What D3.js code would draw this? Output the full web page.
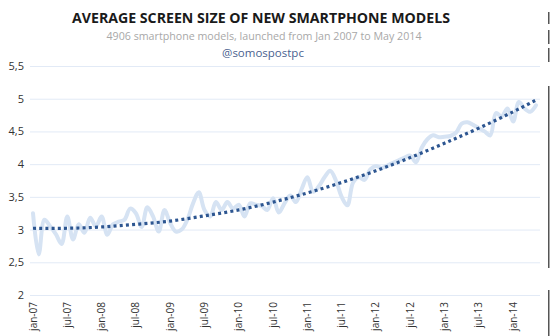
<!DOCTYPE html>
<html>
<head>
<meta charset="utf-8">
<script src="https://cdnjs.cloudflare.com/ajax/libs/d3/7.8.5/d3.min.js"></script>
<style>
  body { margin: 0; background: #fff; }
  svg { display: block; font-family: "Open Sans", "Noto Sans", sans-serif; }
</style>
</head>
<body>
<svg id="chart" width="550" height="336"></svg>
<script type="text/javascript">

// monthly average screen size, jan-07 .. may-14
var months = d3.range(89);
var avgSize = [
  3.25, 2.62, 3.15, 3.05, 2.93, 2.78, 3.20, 2.85, 3.08, 2.95, 3.18, 3.05,
  3.20, 2.92, 3.08, 3.12, 3.15, 3.32, 3.25, 3.04, 3.34, 3.20, 2.97, 3.30,
  3.10, 2.97, 3.00, 3.15, 3.40, 3.57, 3.30, 3.20, 3.42, 3.30, 3.42, 3.32,
  3.38, 3.20, 3.40, 3.38, 3.36, 3.30, 3.48, 3.26, 3.40, 3.52, 3.42, 3.62,
  3.80, 3.58, 3.66, 3.80, 3.90, 3.75, 3.50, 3.37, 3.72, 3.80, 3.76, 3.92,
  3.97, 3.94, 3.98, 4.02, 4.06, 4.10, 4.13, 4.03, 4.25, 4.38, 4.44, 4.41,
  4.42, 4.43, 4.48, 4.62, 4.64, 4.60, 4.55, 4.50, 4.44, 4.78, 4.73, 4.85,
  4.65, 4.95, 4.85, 4.80, 4.90
];

// trend line, read at each half year
var trendMonths = [0, 6, 12, 18, 24, 30, 36, 42, 48, 54, 60, 66, 72, 78, 84, 88];
var trendSize = [3.02, 3.02, 3.04, 3.08, 3.13, 3.21, 3.30, 3.42, 3.56, 3.72, 3.90, 4.10, 4.32, 4.55, 4.80, 4.98];

var tickLabels = ["jan-07", "jul-07", "jan-08", "jul-08", "jan-09", "jul-09", "jan-10", "jul-10",
                  "jan-11", "jul-11", "jan-12", "jul-12", "jan-13", "jul-13", "jan-14"];
var yTicks = [2, 2.5, 3, 3.5, 4, 4.5, 5, 5.5];

var svg = d3.select("#chart");

var x = d3.scaleLinear().domain([0, 88]).range([33, 536]);
var y = d3.scaleLinear().domain([2, 5.5]).range([295, 66]);

// titles
svg.append("text")
    .attr("x", 261).attr("y", 23)
    .attr("text-anchor", "middle")
    .attr("font-size", 15).attr("font-weight", "bold")
    .attr("fill", "#1a1a1a")
    .attr("textLength", 378).attr("lengthAdjust", "spacingAndGlyphs")
    .text("AVERAGE SCREEN SIZE OF NEW SMARTPHONE MODELS");

svg.append("text")
    .attr("x", 264).attr("y", 40)
    .attr("text-anchor", "middle")
    .attr("font-size", 11.5)
    .attr("fill", "#a8a8a8")
    .attr("textLength", 315).attr("lengthAdjust", "spacingAndGlyphs")
    .text("4906 smartphone models, launched from Jan 2007 to May 2014");

svg.append("text")
    .attr("x", 263).attr("y", 57)
    .attr("text-anchor", "middle")
    .attr("font-size", 11.5)
    .attr("fill", "#4a5f8f")
    .text("@somospostpc");

// grid + y labels
svg.append("g")
    .selectAll("line")
    .data(yTicks)
    .join("line")
    .attr("x1", 30).attr("x2", 540)
    .attr("y1", d => y(d) + 0.5).attr("y2", d => y(d) + 0.5)
    .attr("stroke", "#e2eaf6").attr("stroke-width", 1);

svg.append("g")
    .selectAll("text")
    .data(yTicks)
    .join("text")
    .attr("x", 24).attr("y", d => y(d) + 4)
    .attr("text-anchor", "end")
    .attr("font-size", 11)
    .attr("fill", "#333")
    .text(d => String(d).replace(".", ","));

// x labels, rotated
svg.append("g")
    .selectAll("text")
    .data(tickLabels)
    .join("text")
    .attr("transform", (d, i) => "translate(" + (x(i * 6) + 3.5) + ",302) rotate(-90)")
    .attr("text-anchor", "end")
    .attr("font-size", 10)
    .attr("fill", "#333")
    .text(d => d);

// monthly series
var line = d3.line()
    .x((d, i) => x(months[i]))
    .y(d => y(d))
    .curve(d3.curveCatmullRom);

svg.append("path")
    .datum(avgSize)
    .attr("d", line)
    .attr("fill", "none")
    .attr("stroke", "#d6e3f3")
    .attr("stroke-width", 4)
    .attr("stroke-linecap", "round")
    .attr("stroke-linejoin", "round");

// trend
var trend = d3.line()
    .x((d, i) => x(trendMonths[i]))
    .y(d => y(d))
    .curve(d3.curveNatural);

svg.append("path")
    .datum(trendSize)
    .attr("d", trend)
    .attr("fill", "none")
    .attr("stroke", "#2d5691")
    .attr("stroke-width", 3.2)
    .attr("stroke-dasharray", "3,3.2");

// dark border bits on the right edge of the screenshot
var edge = [[12, 24], [30, 44], [48, 62], [86, 268], [290, 336]];
svg.append("g")
    .selectAll("rect")
    .data(edge)
    .join("rect")
    .attr("x", 548).attr("width", 1.5)
    .attr("y", d => d[0]).attr("height", d => d[1] - d[0])
    .attr("fill", "#555");

</script>
</body>
</html>
